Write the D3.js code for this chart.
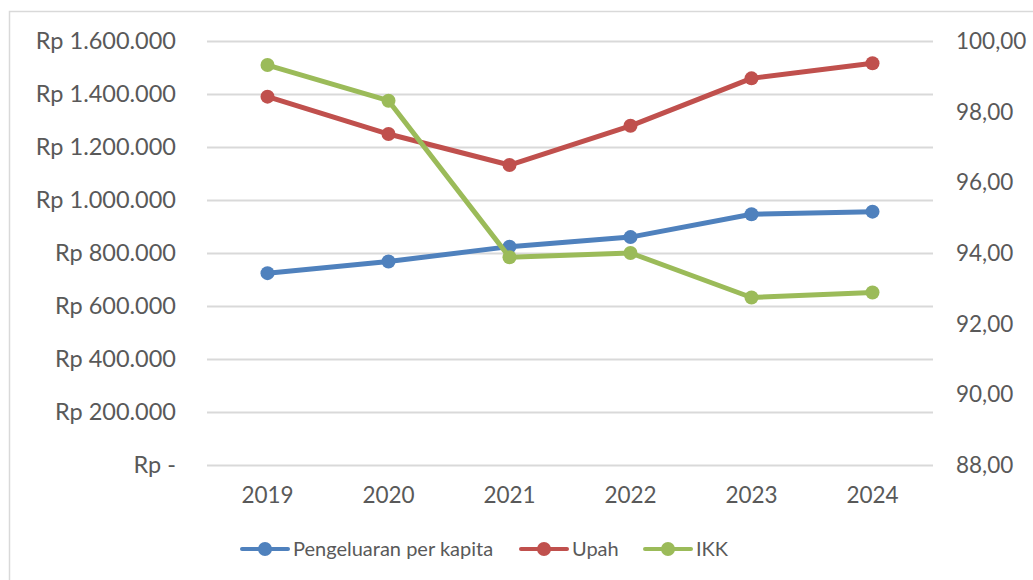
<!DOCTYPE html>
<html>
<head>
<meta charset="utf-8">
<script src="https://cdn.jsdelivr.net/npm/d3@7/dist/d3.min.js"></script>
<style>
  body { margin: 0; background: #fff; }
  svg text { font-family: Lato, "Open Sans", sans-serif; fill: #595959; }
</style>
</head>
<body>
<svg id="chart" width="1033" height="580"></svg>
<script>
// data
const years = ['2019', '2020', '2021', '2022', '2023', '2024'];
const pengeluaran = [724000, 768000, 824000, 860000, 946000, 956000];
const upah = [1390000, 1249000, 1132000, 1280000, 1459000, 1516000];
const ikk = [99.32, 98.31, 93.88, 94.00, 92.74, 92.88];
const leftTicks = [0, 200000, 400000, 600000, 800000, 1000000, 1200000, 1400000, 1600000];
const rightTicks = [88, 90, 92, 94, 96, 98, 100];

const series = [
  { name: 'Pengeluaran per kapita', values: pengeluaran, color: '#4f81bd', axis: 'left' },
  { name: 'Upah', values: upah, color: '#c0504d', axis: 'left' },
  { name: 'IKK', values: ikk, color: '#9bbb59', axis: 'right' }
];

const svg = d3.select('#chart');
const plot = { left: 207, right: 933, top: 41, bottom: 465 };

// outer frame
svg.append('rect')
  .attr('x', 9.5).attr('y', 11.5)
  .attr('width', 1040).attr('height', 600)
  .attr('fill', 'none').attr('stroke', '#d9d9d9').attr('stroke-width', 1.5);

const x = d3.scalePoint().domain(years).range([plot.left, plot.right]).padding(0.5);
const yL = d3.scaleLinear().domain([0, 1600000]).range([plot.bottom, plot.top]);
const yR = d3.scaleLinear().domain([88, 100]).range([plot.bottom, plot.top]);

const fmtRp = v => v === 0 ? 'Rp -' : 'Rp ' + d3.format(',')(v).replace(/,/g, '.');
const fmtR = v => v.toFixed(2).replace('.', ',');

// gridlines
svg.append('g').selectAll('line').data(leftTicks).join('line')
  .attr('x1', plot.left).attr('x2', plot.right)
  .attr('y1', d => Math.round(yL(d)) + 0.5).attr('y2', d => Math.round(yL(d)) + 0.5)
  .attr('stroke', '#d9d9d9').attr('stroke-width', 2);

// left axis labels
svg.append('g').selectAll('text').data(leftTicks).join('text')
  .attr('x', 176).attr('y', d => yL(d))
  .attr('dy', '0.35em').attr('text-anchor', 'end')
  .style('font-size', '23.5px')
  .text(fmtRp);

// right axis labels
svg.append('g').selectAll('text').data(rightTicks).join('text')
  .attr('x', 956).attr('y', d => yR(d))
  .attr('dy', '0.35em').attr('text-anchor', 'start')
  .style('font-size', '22.5px')
  .text(fmtR);

// x labels
svg.append('g').selectAll('text').data(years).join('text')
  .attr('x', d => x(d)).attr('y', 495)
  .attr('dy', '0.35em').attr('text-anchor', 'middle')
  .style('font-size', '22.5px')
  .text(d => d);

// lines + markers
series.forEach(s => {
  const y = s.axis === 'left' ? yL : yR;
  const line = d3.line().x((d, i) => x(years[i])).y(d => y(d));
  svg.append('path')
    .datum(s.values)
    .attr('d', line)
    .attr('fill', 'none')
    .attr('stroke', s.color)
    .attr('stroke-width', 5)
    .attr('stroke-linejoin', 'round')
    .attr('stroke-linecap', 'round');
  svg.append('g').selectAll('circle').data(s.values).join('circle')
    .attr('cx', (d, i) => x(years[i]))
    .attr('cy', d => y(d))
    .attr('r', 7)
    .attr('fill', s.color);
});

// legend
const legendX = [242, 521, 645];
const lg = svg.append('g').selectAll('g').data(series).join('g')
  .attr('transform', (d, i) => `translate(${legendX[i]},549)`);
lg.append('line')
  .attr('x1', 0).attr('x2', 46).attr('y1', 0).attr('y2', 0)
  .attr('stroke', d => d.color).attr('stroke-width', 4).attr('stroke-linecap', 'round');
lg.append('circle').attr('cx', 23).attr('cy', 0).attr('r', 7).attr('fill', d => d.color);
lg.append('text')
  .attr('x', 51).attr('y', 0).attr('dy', '0.35em')
  .style('font-size', '20px')
  .text(d => d.name);
</script>
</body>
</html>
